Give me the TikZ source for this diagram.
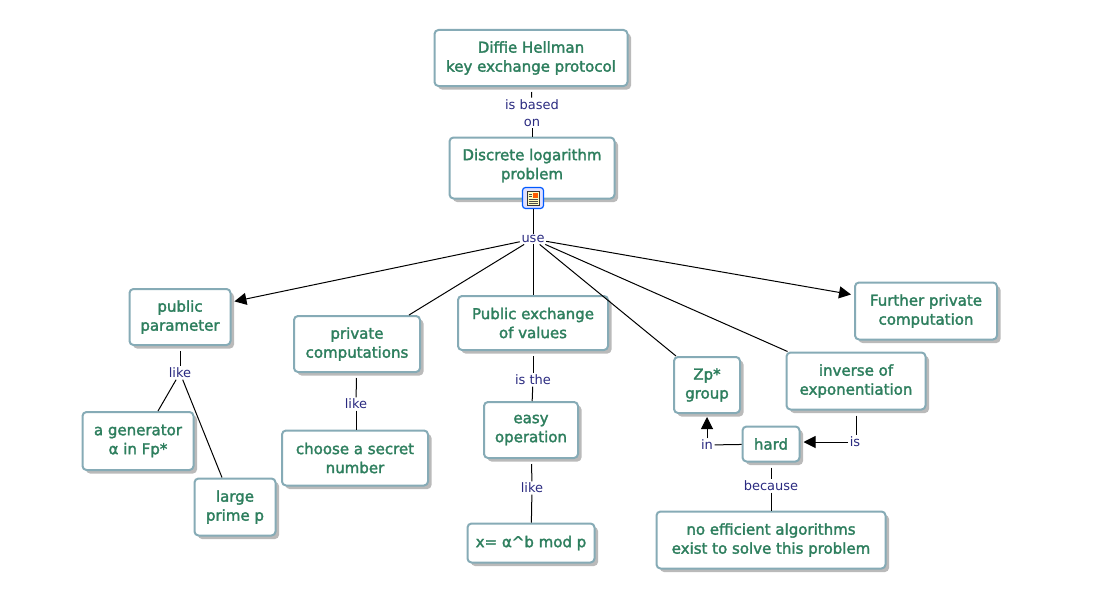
\documentclass[tikz,border=0pt]{standalone}
\usepackage{fontspec}
\usetikzlibrary{arrows.meta,shadows}
\newfontfamily\boxfont[FakeBold=2]{DejaVu Sans}
\newfontfamily\linkfont{DejaVu Sans}
\definecolor{boxgreen}{HTML}{2E7F5E}
\definecolor{boxedge}{HTML}{86ABB6}
\definecolor{linknavy}{HTML}{2A2A80}
\tikzset{x=1pt, y=-1pt,
  box/.style 2 args={draw=boxedge, line width=2pt, rounded corners=4pt, fill=white,
    text=boxgreen, align=center, inner sep=0pt, minimum width=#1, minimum height=#2,
    font=\boxfont\fontsize{15}{19}\selectfont,
    drop shadow={shadow xshift=3.5pt, shadow yshift=-3.5pt, fill=black!27, opacity=1}},
  linklabel/.style={text=linknavy, align=center, inner sep=1.5pt,
    font=\linkfont\fontsize{13}{17.5}\selectfont},
  link/.style={black, line width=1pt},
  linkout/.style={link, shorten <=5pt},
  linkarrow/.style={link, -{Triangle[length=12pt,width=12pt]}, shorten >=3pt}}

\begin{document}
\begin{tikzpicture}
   \useasboundingbox (0,0) rectangle (1103,610);
   \node[box={193pt}{56pt}] (diffie)   at (531,58)  {Diffie Hellman\\key exchange protocol};
   \node[box={165pt}{61pt}] (discrete) at (532,168) {Discrete logarithm\\problem\\[-11pt]};
   \node[box={101pt}{56pt}] (public)   at (180,317) {public\\parameter};
   \node[box={126pt}{56pt}] (private)  at (357,344) {private\\computations};
   \node[box={150pt}{54pt}] (exchange) at (533,323) {Public exchange\\of values};
   \node[box={142pt}{57pt}] (further)  at (926,311) {Further private\\computation};
   \node[box={66pt}{56pt}]  (zp)       at (707,385) {Zp*\\group};
   \node[box={139pt}{57pt}] (inverse)  at (856,381) {inverse of\\exponentiation};
   \node[box={57pt}{35pt}]  (hard)     at (771,444) {hard};
   \node[box={229pt}{57pt}] (noalgo)   at (771,540) {no efficient algorithms\\exist to solve this problem};
   \node[box={111pt}{58pt}] (generator) at (138,441) {a generator\\α in Fp*};
   \node[box={81pt}{57pt}]  (prime)    at (235,507) {large\\prime p};
   \node[box={146pt}{55pt}] (secret)   at (355,458) {choose a secret\\number};
   \node[box={94pt}{56pt}]  (easy)     at (531,430) {easy\\operation};
   \node[box={127pt}{39pt}] (modp)     at (531,543) {x= α\^{}b mod p};

   \node[linklabel] (basedon) at (532,113) {is based\\on};
   \node[linklabel] (use)     at (533,239) {use};
   \node[linklabel] (like1)   at (180,373) {like};
   \node[linklabel] (like2)   at (356,404) {like};
   \node[linklabel] (isthe)   at (533,380) {is the};
   \node[linklabel] (like3)   at (532,488) {like};
   \node[linklabel] (in)      at (707,445) {in};
   \node[linklabel] (is)      at (855,442) {is};
   \node[linklabel] (because) at (771,486) {because};

   % icon on the lower edge of the problem box
   \node[draw=blue!65!cyan, fill=blue!12, line width=1.2pt, rounded corners=3pt,
         minimum size=21pt, inner sep=0pt] (icon) at (533,198) {};
   \draw[black!80, fill=yellow!25, line width=.8pt] (527,191) rectangle (539,205);
   \fill[orange!70!red] (533,192.5) rectangle (538,197.5);
   \foreach \y in {194,196.5} \draw[black!70, line width=.7pt] (528.5,\y) -- (532,\y);
   \foreach \y in {199,201,203} \draw[black!70, line width=.7pt] (528.5,\y) -- (537.5,\y);

   \draw[linkout] (diffie) -- (basedon);
   \draw[link] (basedon) -- (discrete);
   \draw[link] (icon) -- (use);
   \draw[linkarrow] (use) -- ([yshift=15pt]public.east);
   \draw[link] (use) -- ([xshift=-12pt]private.north east);
   \draw[link] (use) -- (exchange);
   \draw[link] (use) -- ([xshift=3pt]zp.north west);
   \draw[link] (use) -- ([xshift=2pt]inverse.north west);
   \draw[linkarrow] (use) -- ([yshift=16pt]further.west);

   \draw[linkout] (public) -- (like1);
   \draw[link] (like1) -- ([xshift=20pt]generator.north);
   \draw[link] (like1) -- ([xshift=-13pt]prime.north);
   \draw[linkout] (private) -- (like2);
   \draw[link] (like2) -- (secret.north -| like2);
   \draw[linkout] (exchange) -- (isthe);
   \draw[link] (isthe) -- (easy);
   \draw[linkout] (easy) -- (like3);
   \draw[link] (like3) -- (modp);
   \draw[link] (hard) -- (in);
   \draw[linkarrow] (in) -- (in |- zp.south);
   \draw[linkout] (inverse) -- (is.north -| inverse);
   \draw[linkarrow] (is) -- (hard.east |- is);
   \draw[linkout] (hard) -- (because);
   \draw[link] (because) -- (noalgo);
\end{tikzpicture}
\end{document}
